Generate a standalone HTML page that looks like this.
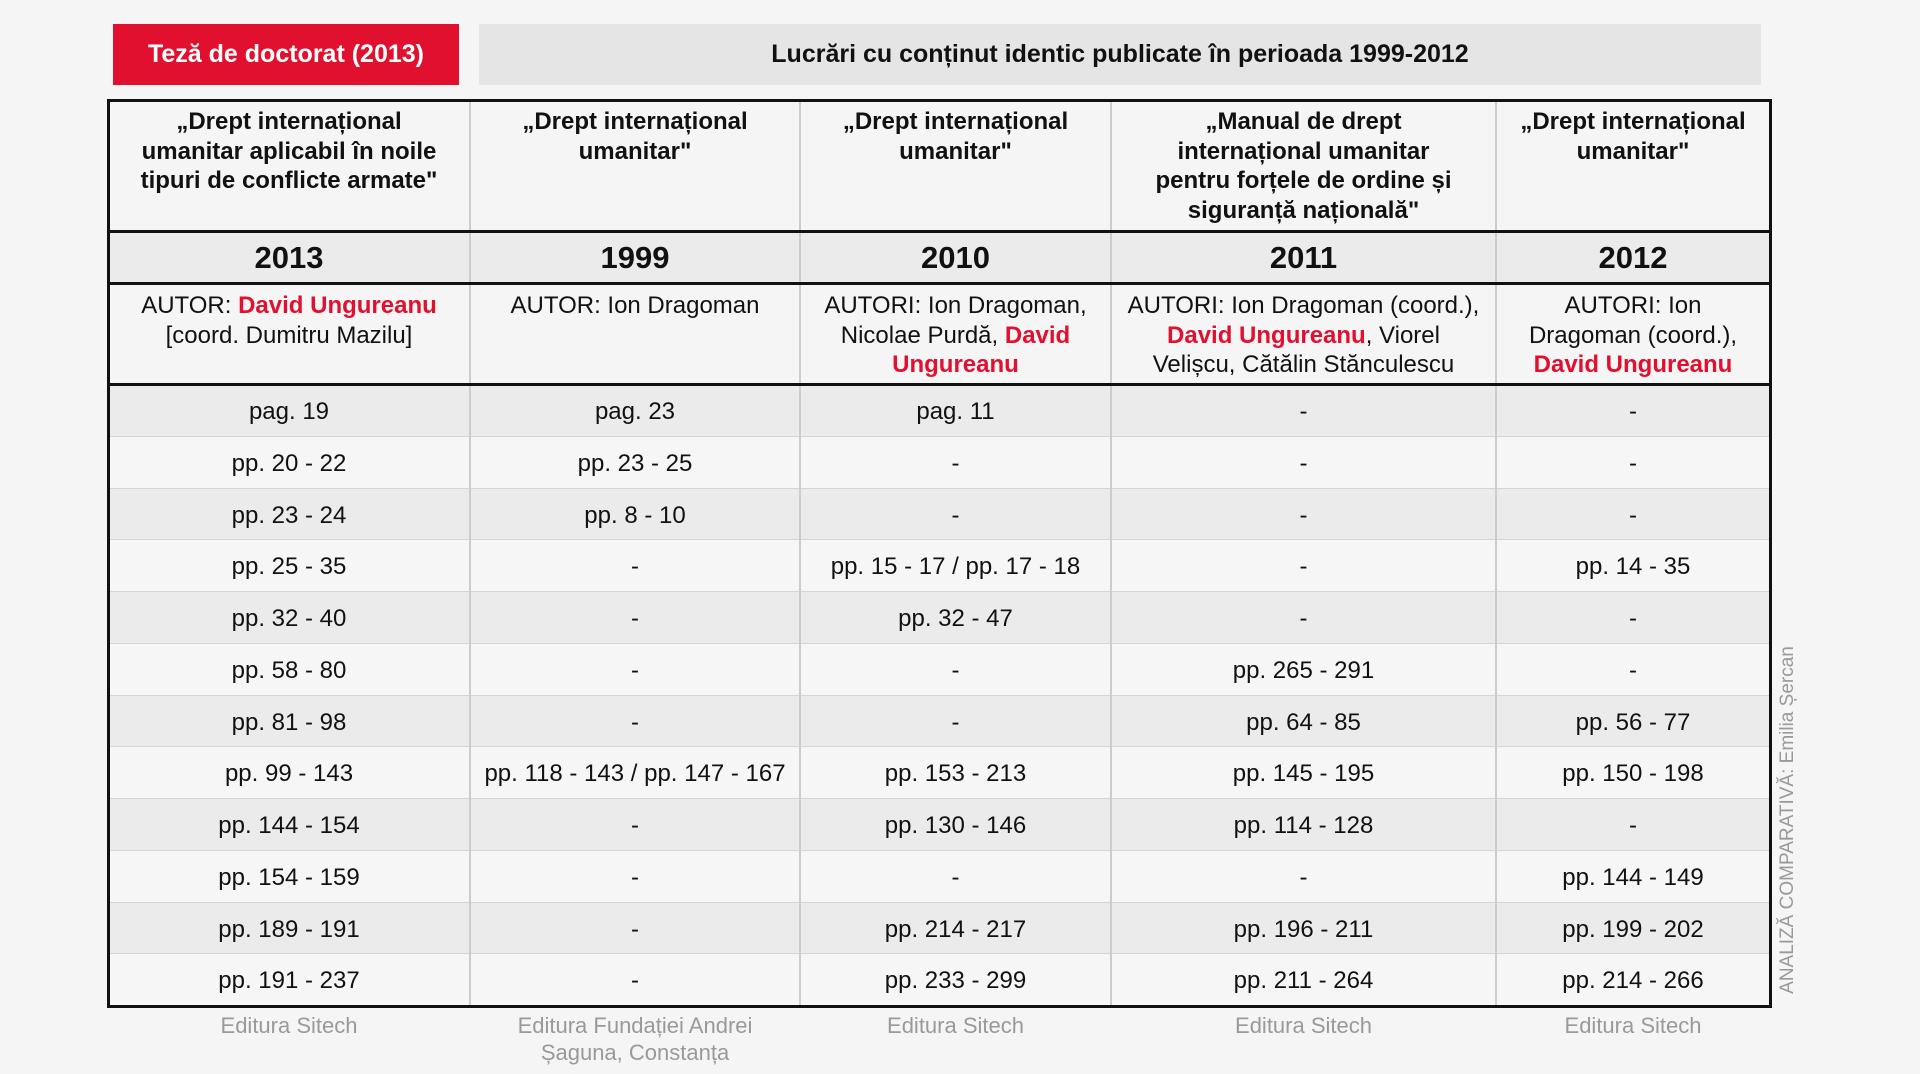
<!DOCTYPE html>
<html><head><meta charset="utf-8"><style>
body{margin:0;width:1920px;height:1074px;background:#f5f5f5;font-family:"Liberation Sans",sans-serif;position:relative;overflow:hidden;color:#111}
.a{position:absolute;box-sizing:border-box}
.red{left:113px;top:24px;width:346px;height:61px;background:#e1102f;color:#fff;font-weight:bold;font-size:25px;display:flex;align-items:center;justify-content:center}
.gr{left:479px;top:24px;width:1282px;height:61px;background:#e5e5e5;font-weight:bold;font-size:25px;display:flex;align-items:center;justify-content:center}
.c{position:absolute;box-sizing:border-box;text-align:center;font-size:24px;line-height:29.5px;display:flex;align-items:center;justify-content:center;white-space:nowrap}
.t{align-items:flex-start}
.b{font-weight:bold;font-size:24px}
.r{color:#e1102f;font-weight:bold}
.hl{position:absolute;left:108px;width:1662px}
.vl{position:absolute;width:1.5px;background:#ccc;top:100px;height:906px}
.box{position:absolute;left:107px;top:99px;width:1665px;height:909px;border:3.5px solid #111;box-sizing:border-box}
.f{position:absolute;top:1012px;text-align:center;color:#999;font-size:22px;line-height:27px}
.v{position:absolute;left:1788px;top:820px;transform:translate(-50%,-50%) rotate(-90deg);white-space:nowrap;color:#999;font-size:19px}
</style></head><body>
<div class="a red">Teză de doctorat (2013)</div>
<div class="a gr">Lucrări cu conținut identic publicate în perioada 1999-2012</div>
<div id="bg"></div>
<script>
const X=[108,470,800,1111,1496,1770];
const rows=[
["pag. 19","pag. 23","pag. 11","-","-"],
["pp. 20 - 22","pp. 23 - 25","-","-","-"],
["pp. 23 - 24","pp. 8 - 10","-","-","-"],
["pp. 25 - 35","-","pp. 15 - 17 / pp. 17 - 18","-","pp. 14 - 35"],
["pp. 32 - 40","-","pp. 32 - 47","-","-"],
["pp. 58 - 80","-","-","pp. 265 - 291","-"],
["pp. 81 - 98","-","-","pp. 64 - 85","pp. 56 - 77"],
["pp. 99 - 143","pp. 118 - 143 / pp. 147 - 167","pp. 153 - 213","pp. 145 - 195","pp. 150 - 198"],
["pp. 144 - 154","-","pp. 130 - 146","pp. 114 - 128","-"],
["pp. 154 - 159","-","-","-","pp. 144 - 149"],
["pp. 189 - 191","-","pp. 214 - 217","pp. 196 - 211","pp. 199 - 202"],
["pp. 191 - 237","-","pp. 233 - 299","pp. 211 - 264","pp. 214 - 266"]];
const head=["„Drept internațional<br>umanitar aplicabil în noile<br>tipuri de conflicte armate\"","„Drept internațional<br>umanitar\"","„Drept internațional<br>umanitar\"","„Manual de drept<br>internațional umanitar<br>pentru forțele de ordine și<br>siguranță națională\"","„Drept internațional<br>umanitar\""];
const yrs=["2013","1999","2010","2011","2012"];
const au=["AUTOR: <span class=r>David Ungureanu</span><br>[coord. Dumitru Mazilu]","AUTOR: Ion Dragoman","AUTORI: Ion Dragoman,<br>Nicolae Purdă, <span class=r>David</span><br><span class=r>Ungureanu</span>","AUTORI: Ion Dragoman (coord.),<br><span class=r>David Ungureanu</span>, Viorel<br>Velișcu, Cătălin Stănculescu","AUTORI: Ion<br>Dragoman (coord.),<br><span class=r>David Ungureanu</span>"];
let h='';
const cell=(i,y,hh,txt,cls,st)=>`<div class="c ${cls}" style="left:${X[i]}px;top:${y}px;width:${X[i+1]-X[i]}px;height:${hh}px;${st||''}">${txt}</div>`;
for(let i=0;i<5;i++){
h+=cell(i,100,132,'<div style="padding-top:7px">'+head[i]+'</div>','t b');
h+=cell(i,232,52,yrs[i],'','background:#ebebeb;font-weight:bold;font-size:31px;');
h+=cell(i,284,101,'<div style="padding-top:7px">'+au[i]+'</div>','t');
}
for(let r=0;r<12;r++){const y=385+r*51.75;
h+=`<div class="hl" style="top:${y}px;height:51.75px;background:${r%2?'#f6f6f6':'#ebebeb'};border-bottom:1.5px solid #d4d4d4;box-sizing:border-box"></div>`;
for(let i=0;i<5;i++)h+=cell(i,y+1,51.75,rows[r][i],'');}
for(let i=1;i<5;i++)h+=`<div class="vl" style="left:${X[i]-1}px"></div>`;
h+=`<div class="hl" style="top:230px;height:3px;background:#111"></div><div class="hl" style="top:282px;height:3px;background:#111"></div><div class="hl" style="top:383px;height:3px;background:#111"></div>`;
document.getElementById('bg').innerHTML=h;
</script>
<div class="box"></div>
<div class="f" style="left:108px;width:362px">Editura Sitech</div>
<div class="f" style="left:470px;width:330px">Editura Fundației Andrei<br>Șaguna, Constanța</div>
<div class="f" style="left:800px;width:311px">Editura Sitech</div>
<div class="f" style="left:1111px;width:385px">Editura Sitech</div>
<div class="f" style="left:1496px;width:274px">Editura Sitech</div>
<div class="v">ANALIZĂ COMPARATIVĂ: Emilia Șercan</div>
</body></html>
